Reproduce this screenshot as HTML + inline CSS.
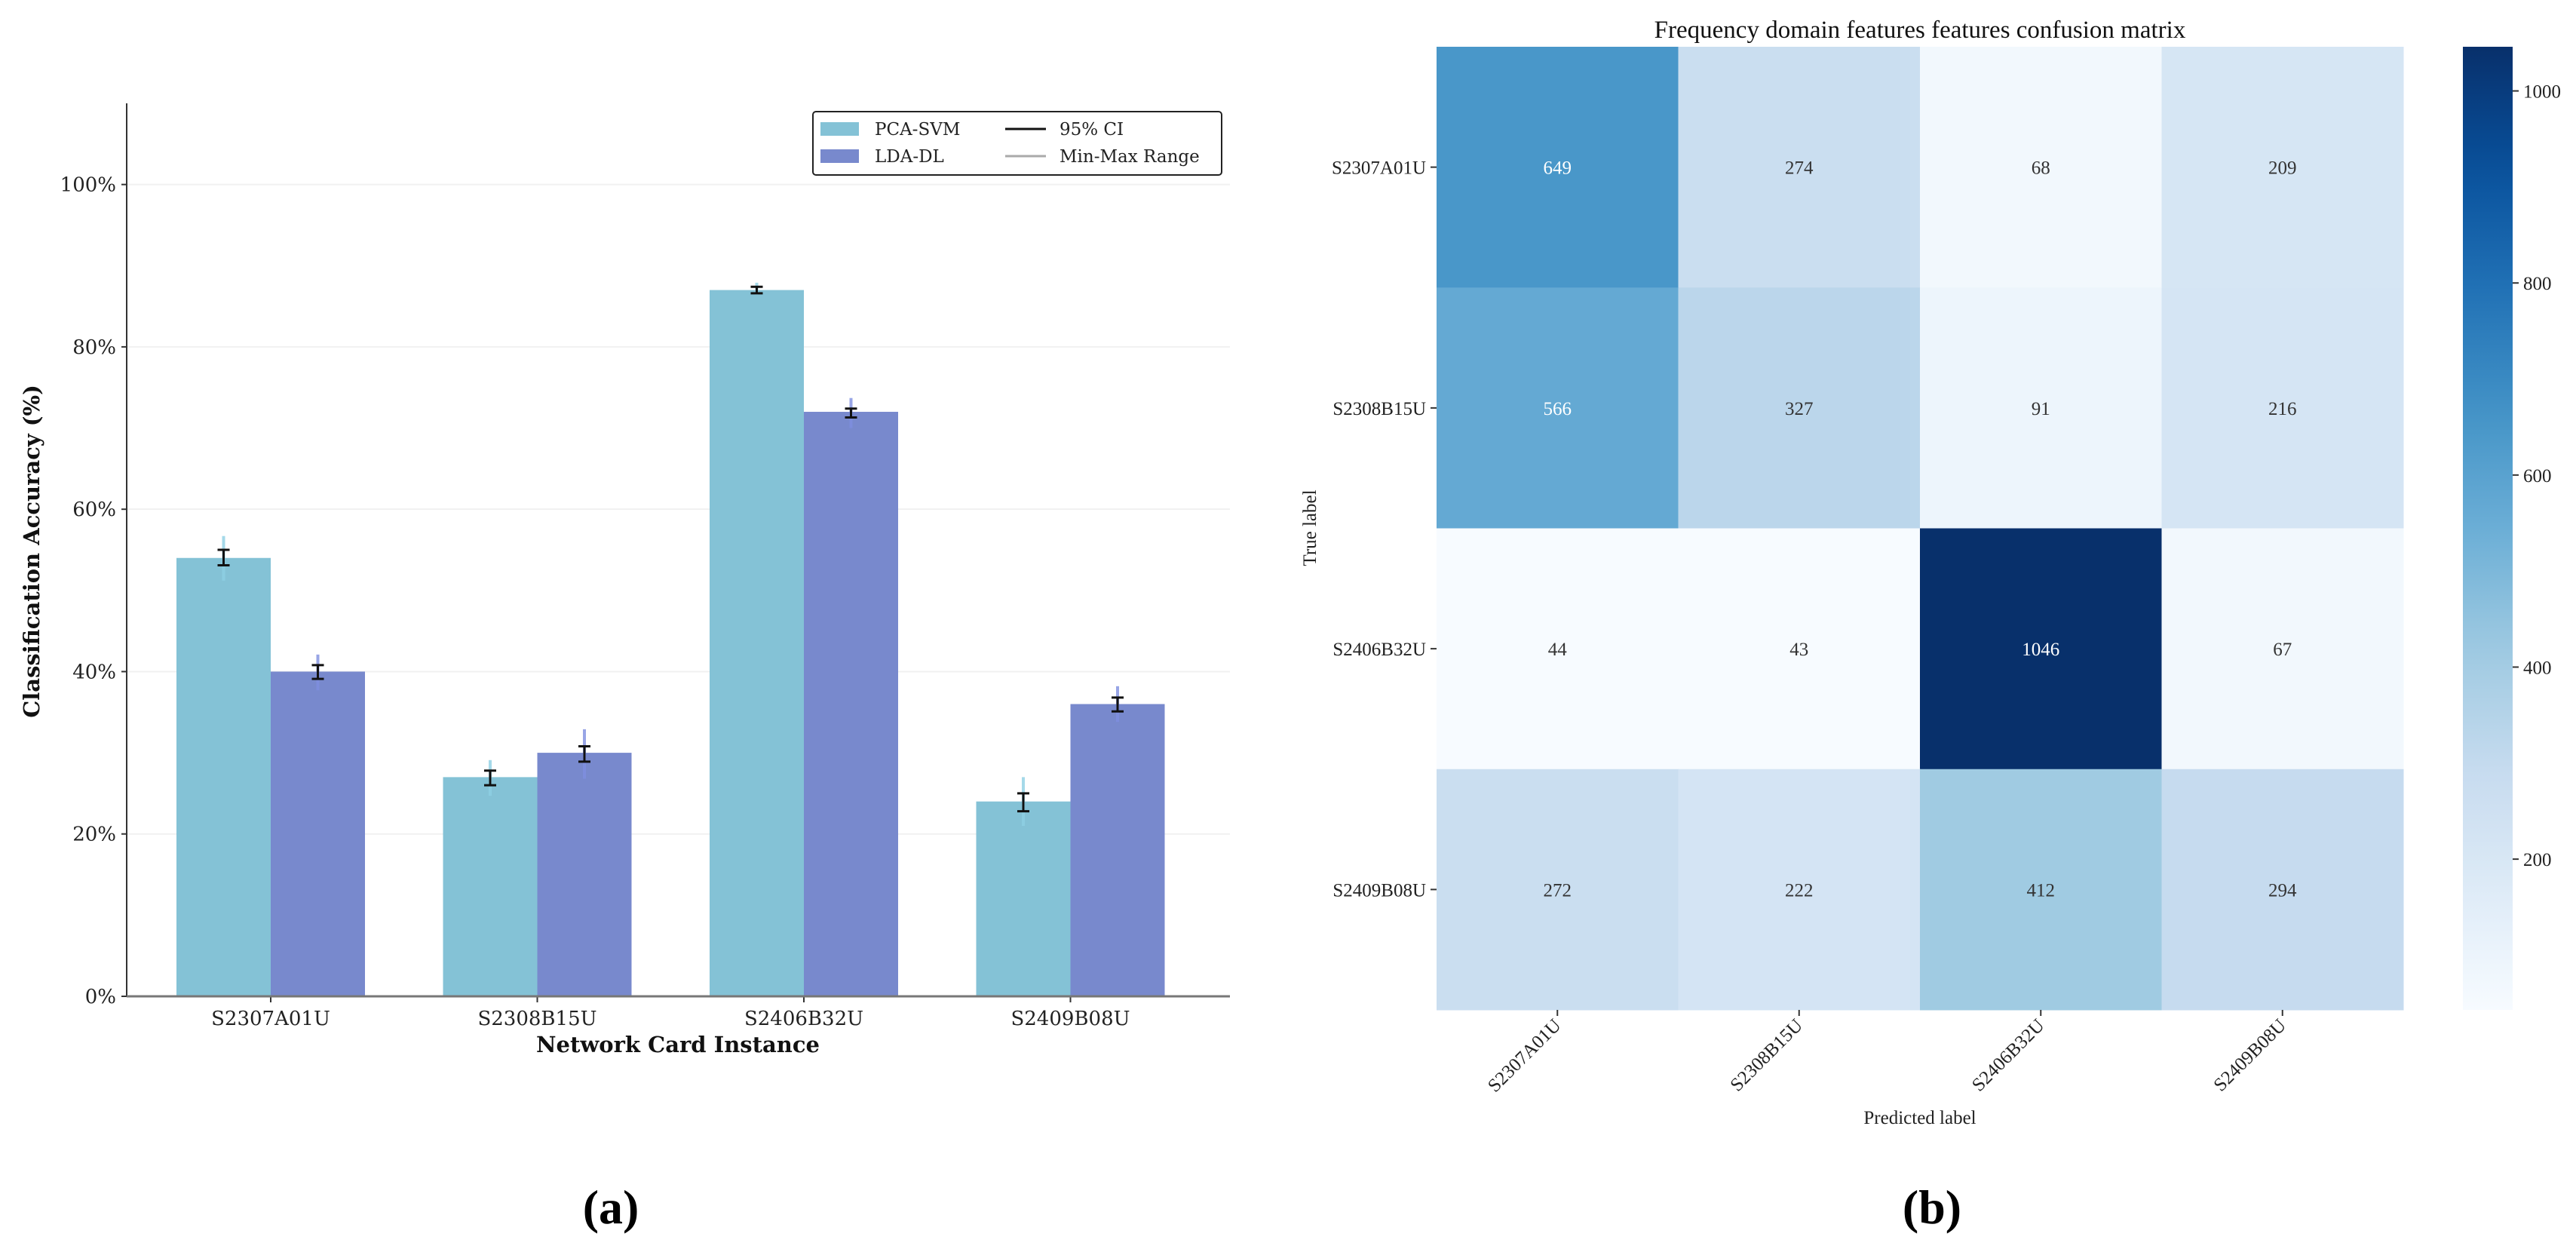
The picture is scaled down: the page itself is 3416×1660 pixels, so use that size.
<!DOCTYPE html>
<html><head><meta charset="utf-8"><style>
html,body{margin:0;padding:0;background:#fff;}
svg{display:block;}
.ds{font-family:"DejaVu Serif","Liberation Serif",serif;}
.ls{font-family:"Liberation Serif","DejaVu Serif",serif;}
</style></head><body>
<svg id="fig" width="3416" height="1660" viewBox="0 0 3416 1660" xmlns="http://www.w3.org/2000/svg">
<g id="left"></g>
<g id="right"></g>
</svg>
<script>
// ---- Bar chart data ----
const categories = ["S2307A01U","S2308B15U","S2406B32U","S2409B08U"];
const pcaValues = [54, 27, 87, 24];
const ldaValues = [40, 30, 72, 36];
const pcaCILow = [53.1, 26.0, 86.6, 22.8];
const pcaCIHigh = [55.0, 27.8, 87.4, 25.0];
const ldaCILow = [39.1, 28.9, 71.3, 35.1];
const ldaCIHigh = [40.8, 30.8, 72.4, 36.8];
const pcaMin = [51.2, 24.7, 86.4, 21.0];
const pcaMax = [56.7, 29.1, 87.9, 27.0];
const ldaMin = [37.7, 26.8, 70.0, 33.8];
const ldaMax = [42.1, 32.9, 73.7, 38.2];
const yTicks = [0, 20, 40, 60, 80, 100];
// ---- Confusion matrix data ----
const cmLabels = ["S2307A01U","S2308B15U","S2406B32U","S2409B08U"];
const cmValues = [
  [649, 274, 68, 209],
  [566, 327, 91, 216],
  [44, 43, 1046, 67],
  [272, 222, 412, 294]
];
const cbTicks = [200, 400, 600, 800, 1000];

const NS = "http://www.w3.org/2000/svg";
function mk(parent, tag, attrs, text){
  const e = document.createElementNS(NS, tag);
  for (const k in attrs) e.setAttribute(k, attrs[k]);
  if (text !== undefined) e.textContent = text;
  parent.appendChild(e);
  return e;
}

// ---------- Left bar chart ----------
const L = document.getElementById('left');
const x0 = 168, x1 = 1631, yTop = 137, yBase = 1321, yMaxVal = 110;
const ys = v => yBase - (v / yMaxVal) * (yBase - yTop);
const groupCenter0 = 359, groupStep = 353.5, barW = 125;
const xc = i => groupCenter0 + i * groupStep;

yTicks.forEach(t => {
  if (t > 0) {
    const g = mk(L, 'line', {x1: x0, x2: x1, y1: ys(t), y2: ys(t), stroke: '#f1f1f1', 'stroke-width': 2});
    
    
  }
  const tk = mk(L, 'line', {x1: x0 - 7, x2: x0, y1: ys(t), y2: ys(t), stroke: '#333', 'stroke-width': 2});
  
  
  const lb = mk(L, 'text', {x: x0 - 14, y: ys(t) + 9, 'text-anchor': 'end', 'font-size': 26, fill: '#222', class: 'ds'}, t + '%');
  
  
});

function drawErr(x, lo, hi, mn, mx, col){
  const r = mk(L, 'line', {x1: x, x2: x, y1: ys(mx), y2: ys(mn), stroke: col, 'stroke-width': 4, opacity: 0.8});
  
  
  const c = mk(L, 'path', {d: `M${x-8},${ys(hi)}H${x+8}M${x},${ys(hi)}V${ys(lo)}M${x-8},${ys(lo)}H${x+8}`, stroke: '#111', 'stroke-width': 3, fill: 'none'});
  
  
}

categories.forEach((c, i) => {
  const cx = xc(i);
  const b1 = mk(L, 'rect', {x: cx - barW, y: ys(pcaValues[i]), width: barW, height: yBase - ys(pcaValues[i]), fill: '#84c2d6'});
  
  
  const b2 = mk(L, 'rect', {x: cx, y: ys(ldaValues[i]), width: barW, height: yBase - ys(ldaValues[i]), fill: '#7889cd'});
  
  
  drawErr(cx - barW/2, pcaCILow[i], pcaCIHigh[i], pcaMin[i], pcaMax[i], '#8fd0e4');
  drawErr(cx + barW/2, ldaCILow[i], ldaCIHigh[i], ldaMin[i], ldaMax[i], '#7f8fe0');
  const tk = mk(L, 'line', {x1: cx, x2: cx, y1: yBase, y2: yBase + 8, stroke: '#333', 'stroke-width': 2});
  
  
  const lb = mk(L, 'text', {x: cx, y: yBase + 38, 'text-anchor': 'middle', 'font-size': 26, fill: '#222', class: 'ds'}, c);
  
  
});

const ya = mk(L, 'line', {x1: x0, x2: x0, y1: yTop, y2: yBase, stroke: '#333', 'stroke-width': 2});


const xa = mk(L, 'line', {x1: x0, x2: x1, y1: yBase, y2: yBase, stroke: '#777', 'stroke-width': 3});


</script>
<script>
(function(){
const L = document.getElementById('left');
const NS = "http://www.w3.org/2000/svg";
function mk(parent, tag, attrs, text){
  const e = document.createElementNS(NS, tag);
  for (const k in attrs) e.setAttribute(k, attrs[k]);
  if (text !== undefined) e.textContent = text;
  parent.appendChild(e);
  return e;
}
const yt = mk(L, 'text', {x: 0, y: 0, transform: 'translate(52,731) rotate(-90)', 'text-anchor': 'middle', 'font-size': 29, 'font-weight': 'bold', fill: '#111', class: 'ds'}, 'Classification Accuracy (%)');


const xt = mk(L, 'text', {x: 899, y: 1395, 'text-anchor': 'middle', 'font-size': 29, 'font-weight': 'bold', fill: '#111', class: 'ds'}, 'Network Card Instance');


const pa = mk(L, 'text', {x: 810, y: 1622, 'text-anchor': 'middle', 'font-size': 64, 'font-weight': 'bold', fill: '#000', class: 'ls'}, '(a)');


// legend
const lg = mk(L, 'g', {});


mk(lg, 'rect', {x: 1078, y: 148, width: 542, height: 84, rx: 4, fill: '#fff', stroke: '#222', 'stroke-width': 2});
const e1 = mk(lg, 'g', {});  
mk(e1, 'rect', {x: 1088, y: 162, width: 51, height: 18, fill: '#84c2d6'});
mk(e1, 'text', {x: 1160, y: 179, 'font-size': 23, fill: '#222', class: 'ds'}, 'PCA-SVM');
const e2 = mk(lg, 'g', {});  
mk(e2, 'rect', {x: 1088, y: 198, width: 51, height: 18, fill: '#7889cd'});
mk(e2, 'text', {x: 1160, y: 215, 'font-size': 23, fill: '#222', class: 'ds'}, 'LDA-DL');
const e3 = mk(lg, 'g', {});  
mk(e3, 'line', {x1: 1333, x2: 1387, y1: 171, y2: 171, stroke: '#111', 'stroke-width': 3});
mk(e3, 'text', {x: 1405, y: 179, 'font-size': 23, fill: '#222', class: 'ds'}, '95% CI');
const e4 = mk(lg, 'g', {});  
mk(e4, 'line', {x1: 1333, x2: 1387, y1: 207, y2: 207, stroke: '#aaa', 'stroke-width': 3});
mk(e4, 'text', {x: 1405, y: 215, 'font-size': 23, fill: '#222', class: 'ds'}, 'Min-Max Range');

// ---------- Right confusion matrix ----------
const R = document.getElementById('right');
const hx0 = 1905, hx1 = 3187, hy0 = 62, hy1 = 1339;
const n = cmLabels.length;
const cw = (hx1 - hx0) / n, ch = (hy1 - hy0) / n;
let vmin = Infinity, vmax = -Infinity;
cmValues.forEach(r => r.forEach(v => { vmin = Math.min(vmin, v); vmax = Math.max(vmax, v); }));
const stops = ['#f7fbff','#deebf7','#c6dbef','#9ecae1','#6baed6','#4292c6','#2171b5','#08519c','#08306b'];
function hex(h){ return [1,3,5].map(i => parseInt(h.substr(i,2),16)); }
function blues(t){
  t = Math.max(0, Math.min(1, t));
  const p = t * (stops.length - 1), i = Math.min(Math.floor(p), stops.length - 2), f = p - i;
  const a = hex(stops[i]), b = hex(stops[i+1]);
  return 'rgb(' + a.map((v,k) => Math.round(v + (b[k]-v)*f)).join(',') + ')';
}
const norm = v => (v - vmin) / (vmax - vmin);
cmValues.forEach((row, r) => row.forEach((v, c) => {
  const cell = mk(R, 'rect', {x: hx0 + c*cw, y: hy0 + r*ch, width: cw + 0.5, height: ch + 0.5, fill: blues(norm(v))});
  
  
  const tx = mk(R, 'text', {x: hx0 + (c+0.5)*cw, y: hy0 + (r+0.5)*ch + 9, 'text-anchor': 'middle', 'font-size': 25, fill: norm(v) > 0.5 ? '#fff' : '#333', class: 'ls'}, String(v));
  
  
}));
cmLabels.forEach((lab, i) => {
  const yy = hy0 + (i+0.5)*ch;
  mk(R, 'line', {x1: hx0 - 8, x2: hx0, y1: yy, y2: yy, stroke: '#333', 'stroke-width': 2});
  const yl = mk(R, 'text', {x: hx0 - 14, y: yy + 9, 'text-anchor': 'end', 'font-size': 25, fill: '#222', class: 'ls'}, lab);
  
  
  const xx = hx0 + (i+0.5)*cw;
  mk(R, 'line', {x1: xx, x2: xx, y1: hy1, y2: hy1 + 8, stroke: '#333', 'stroke-width': 2});
  const xl = mk(R, 'text', {x: 0, y: 0, transform: `translate(${xx+6},${hy1+22}) rotate(-45)`, 'text-anchor': 'end', 'font-size': 25, fill: '#222', class: 'ls'}, lab);
  
  
});
const ttl = mk(R, 'text', {x: 2546, y: 50, 'text-anchor': 'middle', 'font-size': 33, fill: '#111', class: 'ls'}, 'Frequency domain features features confusion matrix');


const pl = mk(R, 'text', {x: 2546, y: 1490, 'text-anchor': 'middle', 'font-size': 25, fill: '#222', class: 'ls'}, 'Predicted label');


const tl = mk(R, 'text', {x: 0, y: 0, transform: 'translate(1745,700) rotate(-90)', 'text-anchor': 'middle', 'font-size': 25, fill: '#222', class: 'ls'}, 'True label');


const pb = mk(R, 'text', {x: 2562, y: 1622, 'text-anchor': 'middle', 'font-size': 64, 'font-weight': 'bold', fill: '#000', class: 'ls'}, '(b)');


// colorbar
const cbx = 3266, cbw = 66;
const defs = mk(R, 'defs', {});
const grad = mk(defs, 'linearGradient', {id: 'cbg', x1: 0, y1: 1, x2: 0, y2: 0});
for (let k = 0; k <= 20; k++) mk(grad, 'stop', {offset: (k/20), 'stop-color': blues(k/20)});
const cb = mk(R, 'rect', {x: cbx, y: hy0, width: cbw, height: hy1 - hy0, fill: 'url(#cbg)'});


const cy = v => hy1 - (v - vmin) / (vmax - vmin) * (hy1 - hy0);
cbTicks.forEach(t => {
  mk(R, 'line', {x1: cbx + cbw, x2: cbx + cbw + 8, y1: cy(t), y2: cy(t), stroke: '#333', 'stroke-width': 2});
  const cl = mk(R, 'text', {x: cbx + cbw + 14, y: cy(t) + 9, 'font-size': 25, fill: '#222', class: 'ls'}, String(t));
  
  
});
})();
</script>
</body></html>
